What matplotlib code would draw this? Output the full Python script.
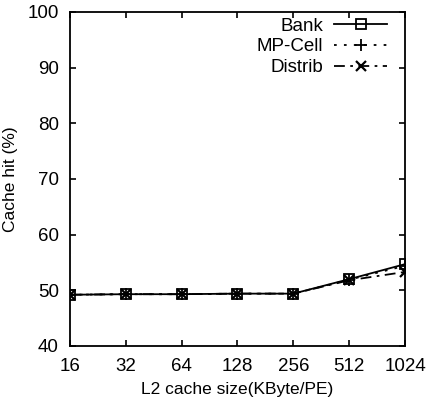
import numpy as np
import matplotlib
matplotlib.use('Agg')
import matplotlib.pyplot as plt

plt.rcParams['font.family'] = ['Liberation Sans', 'DejaVu Sans']

sizes = ['16', '32', '64', '128', '256', '512', '1024']
bank = [49.2, 49.3, 49.3, 49.4, 49.4, 52.0, 54.7]
mpcell = [49.2, 49.3, 49.3, 49.4, 49.4, 51.9, 54.4]
distrib = [49.2, 49.3, 49.3, 49.4, 49.4, 51.8, 53.3]

fig = plt.figure(figsize=(4.26, 4.08), dpi=100)
ax = fig.add_axes([0.164, 0.152, 0.787, 0.819])

x = np.arange(len(sizes))
ax.plot(x, bank, color='black', linestyle='-', linewidth=1.3,
        marker='s', markersize=7, markerfacecolor='none', markeredgewidth=1.3,
        label='Bank')
ax.plot(x, mpcell, color='black', linestyle=(0, (1.5, 4)), linewidth=1.3,
        marker='+', markersize=8, markeredgewidth=1.3, label='MP-Cell')
ax.plot(x, distrib, color='black', linestyle=(0, (6, 3, 1.5, 3)), linewidth=1.3,
        marker='x', markersize=7, markeredgewidth=1.6, label='Distrib')

ax.set_xlim(0, len(sizes) - 1)
ax.set_ylim(40, 100)
ax.set_xticks(x)
ax.set_xticklabels(sizes)
ax.set_yticks(np.arange(40, 101, 10))
ax.tick_params(direction='in', length=4, width=1.2, labelsize=13.5, pad=8,
               top=True, right=True)
ax.tick_params(axis='x', pad=9)
for s in ax.spines.values():
    s.set_linewidth(1.3)

ax.set_xlabel('L2 cache size(KByte/PE)', fontsize=12.5, labelpad=5)
ax.set_ylabel('Cache hit (%)', fontsize=12.5, labelpad=7)

ax.legend(loc='upper right', bbox_to_anchor=(0.962, 1.0), frameon=False,
          markerfirst=False, fontsize=13.5,
          handlelength=2.8, handletextpad=0.6, labelspacing=0.2,
          borderpad=0.3, borderaxespad=0.0)

fig.savefig('out.png', dpi=100)
